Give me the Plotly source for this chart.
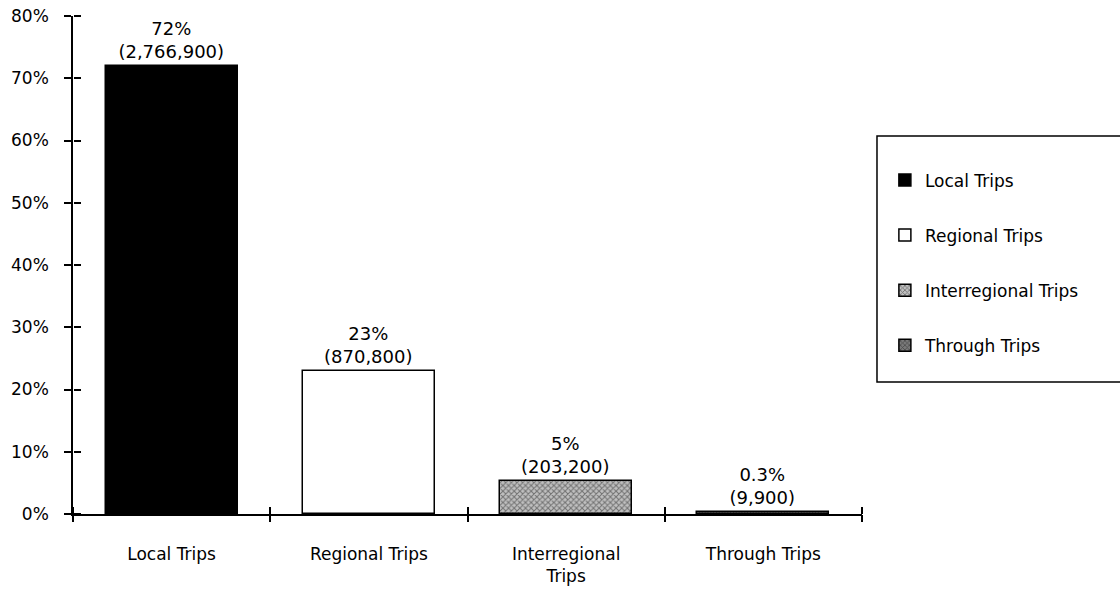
import plotly.graph_objects as go

categories = ["Local Trips", "Regional Trips", "Interregional Trips", "Through Trips"]
tick_labels = ["Local Trips", "Regional Trips", "Interregional<br>Trips", "Through Trips"]
shares = [72, 23, 5.3, 0.3]
trips = [2766900, 870800, 203200, 9900]
pct_labels = ["72%", "23%", "5%", "0.3%"]
y_ticks = [0, 10, 20, 30, 40, 50, 60, 70, 80]
x_positions = [0.5, 1.5, 2.5, 3.5]
x_bounds = [0, 1, 2, 3, 4]

styles = [
    dict(color="#000000", line=dict(color="#000000", width=1.5)),
    dict(color="#ffffff", line=dict(color="#000000", width=1.5)),
    dict(color="#a8a8a8", line=dict(color="#000000", width=1.5),
         pattern=dict(shape="x", size=4, solidity=0.45, fgcolor="#222222", bgcolor="#c0c0c0", fillmode="overlay")),
    dict(color="#555555", line=dict(color="#000000", width=1.5),
         pattern=dict(shape="x", size=4, solidity=0.4, fgcolor="#111111", bgcolor="#7a7a7a", fillmode="overlay")),
]

font_family = "DejaVu Sans, Verdana, sans-serif"

fig = go.Figure()
for i, cat in enumerate(categories):
    fig.add_trace(go.Bar(
        x=[x_positions[i]], y=[shares[i]], width=0.67,
        name=cat, legendgroup=cat,
        marker=styles[i],
        text=[f"{pct_labels[i]}<br>({trips[i]:,})"],
        textposition="outside", cliponaxis=False,
        textfont=dict(size=18, color="black", family=font_family),
    ))

# invisible helper traces so the overlay axes (crossing ticks) are drawn
fig.add_trace(go.Scatter(x=[None], y=[None], xaxis="x2", yaxis="y2",
                         showlegend=False, hoverinfo="skip"))
fig.add_trace(go.Scatter(x=[None], y=[None], xaxis="x3", yaxis="y2",
                         showlegend=False, hoverinfo="skip"))

tick_style = dict(showgrid=False, zeroline=False, tickcolor="black", tickwidth=1.5,
                  ticklen=7, automargin=False)

fig.update_layout(
    width=1120, height=591,
    margin=dict(l=73, r=258, t=16, b=77),
    paper_bgcolor="white", plot_bgcolor="white",
    font=dict(family=font_family, size=18, color="black"),
    bargap=0,
    xaxis=dict(range=[0, 4], tickmode="array", tickvals=x_positions, ticktext=tick_labels,
               ticks="", showline=True, linecolor="black", linewidth=1.5,
               showgrid=False, zeroline=False, automargin=False,
               tickfont=dict(size=17), ticklabelstandoff=24, fixedrange=True),
    yaxis=dict(range=[0, 80], tickmode="array", tickvals=y_ticks,
               ticktext=[f"{v}%" for v in y_ticks], ticks="outside", showline=True,
               linecolor="black", linewidth=1.5,
               tickfont=dict(size=17), ticklabelstandoff=12, **tick_style),
    # bottom-pointing ticks at category boundaries
    xaxis2=dict(range=[0, 4], overlaying="x", anchor="free", position=0, side="bottom",
                tickmode="array", tickvals=x_bounds, ticks="outside", showticklabels=False,
                showline=False, **tick_style),
    # upward-pointing ticks at category boundaries (top-side axis placed at the bottom)
    xaxis3=dict(range=[0, 4], overlaying="x", anchor="free", position=0, side="top",
                tickmode="array", tickvals=x_bounds, ticks="outside", showticklabels=False,
                showline=False, **tick_style),
    # rightward-pointing ticks on the y axis (right-side axis placed at the left)
    yaxis2=dict(range=[0, 80], overlaying="y", anchor="free", position=0, side="right",
                tickmode="array", tickvals=y_ticks, ticks="outside", showticklabels=False,
                showline=False, **tick_style),
    legend=dict(x=1.029, y=0.706, xanchor="left", yanchor="top",
                borderwidth=0, bgcolor="rgba(0,0,0,0)",
                font=dict(size=17, color="black", family=font_family), tracegroupgap=30,
                itemwidth=30, traceorder="grouped"),
    shapes=[dict(type="rect", xref="paper", yref="paper",
                 x0=1.019, x1=1.335, y0=0.2651, y1=0.759,
                 line=dict(color="black", width=1.5), fillcolor="rgba(0,0,0,0)", layer="below")],
)

fig.write_html("out.html")
